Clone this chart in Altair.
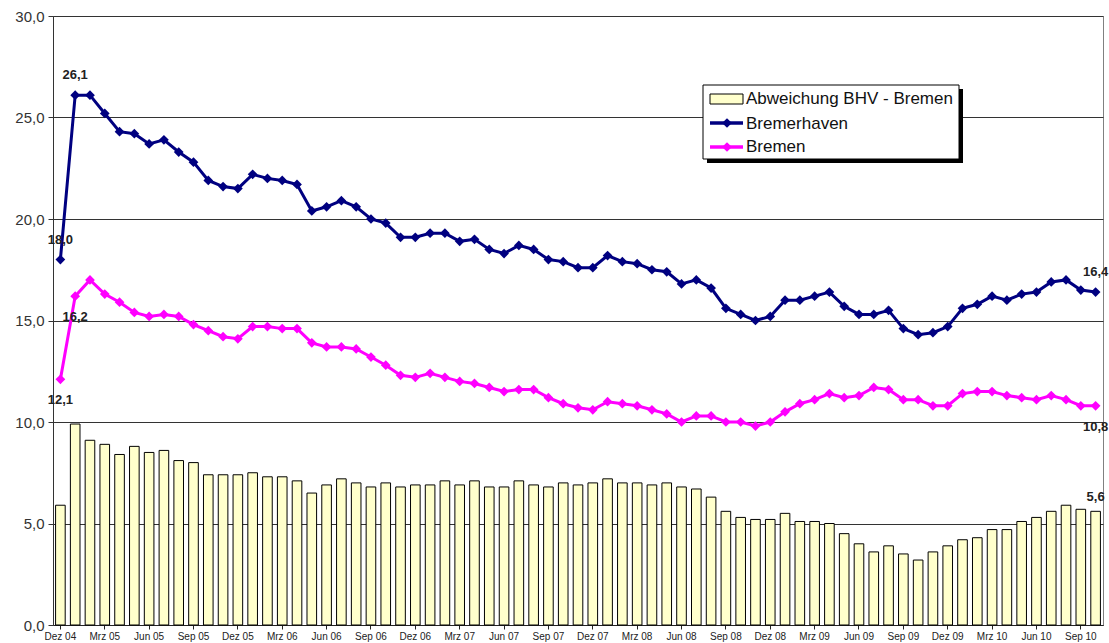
import altair as alt
import pandas as pd

abbr = ["Jan", "Feb", "Mrz", "Apr", "Mai", "Jun", "Jul", "Aug", "Sep", "Okt", "Nov", "Dez"]
monate = ["Dez 04"] + [f"{m} {y:02d}" for y in range(5, 11) for m in abbr][:70]

bremerhaven = [18.0, 26.1, 26.1, 25.2, 24.3, 24.2, 23.7, 23.9, 23.3, 22.8,
               21.9, 21.6, 21.5, 22.2, 22.0, 21.9, 21.7, 20.4, 20.6, 20.9,
               20.6, 20.0, 19.8, 19.1, 19.1, 19.3, 19.3, 18.9, 19.0, 18.5,
               18.3, 18.7, 18.5, 18.0, 17.9, 17.6, 17.6, 18.2, 17.9, 17.8,
               17.5, 17.4, 16.8, 17.0, 16.6, 15.6, 15.3, 15.0, 15.2, 16.0,
               16.0, 16.2, 16.4, 15.7, 15.3, 15.3, 15.5, 14.6, 14.3, 14.4,
               14.7, 15.6, 15.8, 16.2, 16.0, 16.3, 16.4, 16.9, 17.0, 16.5, 16.4]
bremen = [12.1, 16.2, 17.0, 16.3, 15.9, 15.4, 15.2, 15.3, 15.2, 14.8,
          14.5, 14.2, 14.1, 14.7, 14.7, 14.6, 14.6, 13.9, 13.7, 13.7,
          13.6, 13.2, 12.8, 12.3, 12.2, 12.4, 12.2, 12.0, 11.9, 11.7,
          11.5, 11.6, 11.6, 11.2, 10.9, 10.7, 10.6, 11.0, 10.9, 10.8,
          10.6, 10.4, 10.0, 10.3, 10.3, 10.0, 10.0, 9.8, 10.0, 10.5,
          10.9, 11.1, 11.4, 11.2, 11.3, 11.7, 11.6, 11.1, 11.1, 10.8,
          10.8, 11.4, 11.5, 11.5, 11.3, 11.2, 11.1, 11.3, 11.1, 10.8, 10.8]
abweichung = [5.9, 9.9, 9.1, 8.9, 8.4, 8.8, 8.5, 8.6, 8.1, 8.0,
              7.4, 7.4, 7.4, 7.5, 7.3, 7.3, 7.1, 6.5, 6.9, 7.2,
              7.0, 6.8, 7.0, 6.8, 6.9, 6.9, 7.1, 6.9, 7.1, 6.8,
              6.8, 7.1, 6.9, 6.8, 7.0, 6.9, 7.0, 7.2, 7.0, 7.0,
              6.9, 7.0, 6.8, 6.7, 6.3, 5.6, 5.3, 5.2, 5.2, 5.5,
              5.1, 5.1, 5.0, 4.5, 4.0, 3.6, 3.9, 3.5, 3.2, 3.6,
              3.9, 4.2, 4.3, 4.7, 4.7, 5.1, 5.3, 5.6, 5.9, 5.7, 5.6]

serien = ["Bremerhaven", "Bremen"]
farben = ["#000080", "#FF00FF"]
legend_titel = ["Abweichung BHV - Bremen", "Bremerhaven", "Bremen"]

FONT = "Liberation Sans"

df = pd.DataFrame({"i": range(len(monate)), "Monat": monate,
                   "Abweichung": abweichung, "Bremerhaven": bremerhaven, "Bremen": bremen})
long = df.melt(id_vars=["i", "Monat"], value_vars=serien, var_name="Serie", value_name="Wert")

ann_rows = [
    (1, bremerhaven[1], "above"), (0, bremerhaven[0], "above"), (70, bremerhaven[70], "above"),
    (0, bremen[0], "below"), (1, bremen[1], "below"), (70, bremen[70], "below"),
    (70, abweichung[70], "bar"),
]
ann = pd.DataFrame({"Monat": [monate[r[0]] for r in ann_rows],
                    "Wert": [r[1] for r in ann_rows],
                    "pos": [r[2] for r in ann_rows]})
ann["txt"] = ann["Wert"].map(lambda v: f"{v:.1f}".replace(".", ","))

x_scale = alt.Scale(paddingInner=0.35, paddingOuter=0.175)
x_axis = alt.Axis(values=monate[::3], title=None, labelAngle=0, labelFontSize=10,
                  labelColor="#222", labelFont=FONT, tickSize=4, domainColor="#222",
                  tickColor="#222", labelPadding=2, grid=False)
y_scale = alt.Scale(domain=[0, 30], nice=False, zero=True)
y_axis = alt.Axis(values=[0, 5, 10, 15, 20, 25, 30], title=None,
                  labelExpr="replace(format(datum.value, '.1f'), '.', ',')",
                  labelFontSize=15, labelColor="#333", labelFont=FONT,
                  grid=True, gridColor="#333", gridWidth=1, tickSize=5,
                  tickColor="#333", domainColor="#333", labelPadding=4)


def X():
    return alt.X("Monat:N", sort=monate, scale=x_scale, axis=x_axis)


def Y(field):
    return alt.Y(field, scale=y_scale, axis=y_axis)


bars = alt.Chart(df).mark_bar(fill="#FFFFCC", stroke="#000", strokeWidth=1).encode(
    x=X(), y=Y("Abweichung:Q"))

lines = alt.Chart(long).mark_line(
    strokeWidth=3,
    point=alt.OverlayMarkDef(shape="diamond", size=95, filled=True)
).encode(
    x=X(), y=Y("Wert:Q"),
    color=alt.Color("Serie:N", scale=alt.Scale(domain=serien, range=farben), legend=None),
    order=alt.Order("i:Q"),
)


def ann_layer(pos, dy):
    return alt.Chart(ann).transform_filter(alt.datum.pos == pos).mark_text(
        font=FONT, fontSize=13, fontWeight="bold", color="#222", dy=dy
    ).encode(x=X(), y=Y("Wert:Q"), text="txt:N")


ann_above = ann_layer("above", -20)
ann_below = ann_layer("below", 21)
ann_bar = ann_layer("bar", -14)

one = pd.DataFrame({"a": [0]})
lx0, lx1, ly0, ly1 = 650, 906, 69, 143
shadow = alt.Chart(one).mark_rect(fill="#000").encode(
    x=alt.value(lx0 + 4), x2=alt.value(lx1 + 4), y=alt.value(ly0 + 4), y2=alt.value(ly1 + 4))
box = alt.Chart(one).mark_rect(fill="#fff", stroke="#000", strokeWidth=1).encode(
    x=alt.value(lx0), x2=alt.value(lx1), y=alt.value(ly0), y2=alt.value(ly1))
sq = alt.Chart(one).mark_rect(fill="#FFFFCC", stroke="#000", strokeWidth=1).encode(
    x=alt.value(657), x2=alt.value(690), y=alt.value(78), y2=alt.value(88))
leg_layers = [shadow, box, sq]
for yy, col in zip([107, 131], farben):
    leg_layers.append(alt.Chart(one).mark_rule(color=col, strokeWidth=3.5).encode(
        x=alt.value(657), x2=alt.value(690), y=alt.value(yy)))
    leg_layers.append(alt.Chart(one).mark_point(shape="diamond", filled=True, size=95,
                                                color=col, opacity=1).encode(
        x=alt.value(674), y=alt.value(yy)))
for txt, yy in zip(legend_titel, [83, 108, 131]):
    leg_layers.append(alt.Chart(one).mark_text(
        text=txt, font=FONT, fontSize=17, color="#111", align="left", baseline="middle"
    ).encode(x=alt.value(693), y=alt.value(yy)))

chart = alt.layer(bars, lines, ann_above, ann_below, ann_bar, *leg_layers).properties(
    width=1050, height=609,
    padding={"left": 53, "top": 16, "right": 6, "bottom": 18},
    autosize="none", background="white",
).configure_view(stroke="#808080", strokeWidth=1)

chart.save("out.html", embed_options={"renderer": "svg", "actions": False})
